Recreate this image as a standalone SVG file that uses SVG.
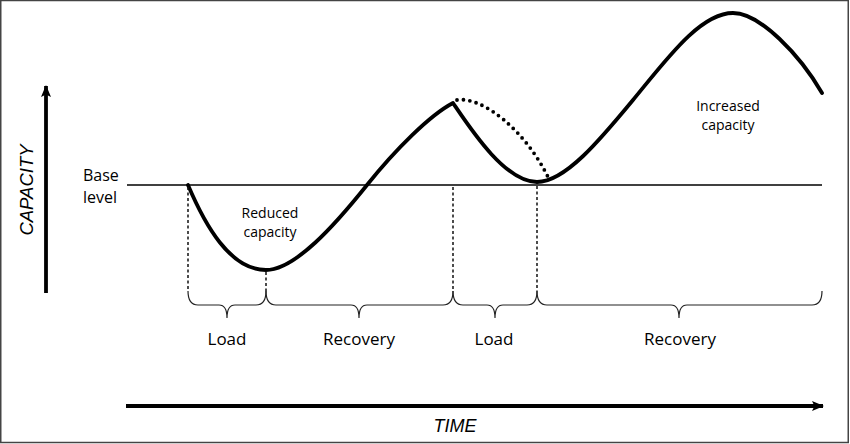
<svg xmlns="http://www.w3.org/2000/svg" width="850" height="444" viewBox="0 0 850 444">
  <style>
    .lbl { font-family: "Open Sans", "Noto Sans", sans-serif; fill: #000; text-anchor: middle; }
    .axis { font-family: "Liberation Sans", Arial, sans-serif; font-style: italic; fill: #000; text-anchor: middle; }
    .curve { fill: none; stroke: #000; stroke-width: 3.8; stroke-linejoin: round; stroke-linecap: round; }
    .dots { fill: none; stroke: #000; stroke-width: 3.8; stroke-linecap: round; stroke-dasharray: 0 6.5; }
    .guide { fill: none; stroke: #111; stroke-width: 1.5; stroke-dasharray: 3 2.5; }
    .brace { fill: none; stroke: #222; stroke-width: 1.2; }
    .axisline { fill: none; stroke: #000; stroke-width: 3.8; }
  </style>
  <defs>
    <marker id="arrow" viewBox="0 0 12 10" refX="11" refY="5" markerWidth="12" markerHeight="10" markerUnits="userSpaceOnUse" orient="auto">
      <path d="M0,0 L12,5 L0,10 L2.5,5 Z" fill="#000"/>
    </marker>
  </defs>
  <rect x="0.75" y="0.5" width="847.5" height="442" fill="#fff" stroke="#444" stroke-width="1.5"/>

  <g id="connectors">
    <line id="y-axis" class="axisline" x1="46" y1="293" x2="46" y2="86" marker-end="url(#arrow)"/>
    <line id="x-axis" class="axisline" x1="126" y1="406" x2="823" y2="406" marker-end="url(#arrow)"/>
    <line id="base-line" x1="127" y1="185" x2="822" y2="185" stroke="#000" stroke-width="1.3"/>
    <path id="capacity-curve" class="curve" d="M188,185 C205,225 230,270 266,270 C295,270 335,225 367,185 C395,150 430,115 453,103 C470,128 505,182 537,182 C565,182 600,140 633,100 C666,60 700,13 733,13 C760,13 800,55 822,93"/>
    <path id="dotted-curve" class="dots" d="M457,100 C482,96 525,130 548,177"/>
    <line class="guide" x1="188" y1="187" x2="188" y2="291"/>
    <line class="guide" x1="266" y1="272" x2="266" y2="291"/>
    <line class="guide" x1="453" y1="187" x2="453" y2="291"/>
    <line class="guide" x1="537" y1="186" x2="537" y2="291"/>
    <path class="brace" d="M188,291 Q188,305 198,305 L219,305 Q227,305 227,318 Q227,305 235,305 L256,305 Q266,305 266,291"/>
    <path class="brace" d="M266,291 Q266,305 276,305 L351,305 Q359,305 359,318 Q359,305 367,305 L443,305 Q453,305 453,291"/>
    <path class="brace" d="M453,291 Q453,305 463,305 L487,305 Q495,305 495,318 Q495,305 503,305 L527,305 Q537,305 537,291"/>
    <path class="brace" d="M537,291 Q537,305 547,305 L671,305 Q679,305 679,318 Q679,305 687,305 L812,305 Q822,305 822,291"/>
  </g>

  <g id="axis-capacity">
    <text class="axis" font-size="18.5" transform="translate(33,190) rotate(-90)">CAPACITY</text>
  </g>
  <g id="axis-time">
    <text class="axis" font-size="18" x="455" y="432">TIME</text>
  </g>
  <g id="base-level">
    <text class="lbl" font-size="16" x="83" y="181" style="text-anchor:start">Base</text>
    <text class="lbl" font-size="16" x="83" y="203" style="text-anchor:start">level</text>
  </g>
  <g id="reduced-capacity">
    <text class="lbl" font-size="14" x="270" y="218">Reduced</text>
    <text class="lbl" font-size="14" x="270" y="237">capacity</text>
  </g>
  <g id="increased-capacity">
    <text class="lbl" font-size="14" x="728" y="111">Increased</text>
    <text class="lbl" font-size="14" x="728" y="130">capacity</text>
  </g>
  <g id="phase-load-1"><text class="lbl" font-size="17" x="227" y="345">Load</text></g>
  <g id="phase-recovery-1"><text class="lbl" font-size="17" x="359" y="345">Recovery</text></g>
  <g id="phase-load-2"><text class="lbl" font-size="17" x="494" y="345">Load</text></g>
  <g id="phase-recovery-2"><text class="lbl" font-size="17" x="680" y="345">Recovery</text></g>
</svg>
